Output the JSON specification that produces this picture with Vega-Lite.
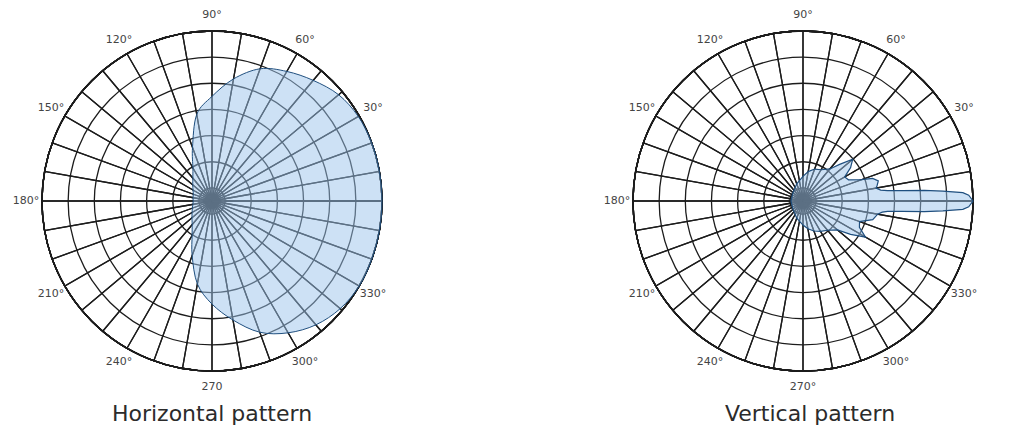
{
  "$schema": "https://vega.github.io/schema/vega-lite/v6.json",
  "padding": {"left": 11, "top": 0, "right": 0, "bottom": 0},
  "spacing": 189,
  "background": "white",
  "config": {
    "view": {"stroke": null},
    "title": {"font": "DejaVu Sans", "fontSize": 22, "fontWeight": "normal", "color": "#2b2b2b", "orient": "bottom", "offset": 2}
  },
  "datasets": {
    "wedges": [
      {"a0": 0, "a1": 10}, {"a0": 10, "a1": 20}, {"a0": 20, "a1": 30}, {"a0": 30, "a1": 40},
      {"a0": 40, "a1": 50}, {"a0": 50, "a1": 60}, {"a0": 60, "a1": 70}, {"a0": 70, "a1": 80},
      {"a0": 80, "a1": 90}, {"a0": 90, "a1": 100}, {"a0": 100, "a1": 110}, {"a0": 110, "a1": 120},
      {"a0": 120, "a1": 130}, {"a0": 130, "a1": 140}, {"a0": 140, "a1": 150}, {"a0": 150, "a1": 160},
      {"a0": 160, "a1": 170}, {"a0": 170, "a1": 180}, {"a0": 180, "a1": 190}, {"a0": 190, "a1": 200},
      {"a0": 200, "a1": 210}, {"a0": 210, "a1": 220}, {"a0": 220, "a1": 230}, {"a0": 230, "a1": 240},
      {"a0": 240, "a1": 250}, {"a0": 250, "a1": 260}, {"a0": 260, "a1": 270}, {"a0": 270, "a1": 280},
      {"a0": 280, "a1": 290}, {"a0": 290, "a1": 300}, {"a0": 300, "a1": 310}, {"a0": 310, "a1": 320},
      {"a0": 320, "a1": 330}, {"a0": 330, "a1": 340}, {"a0": 340, "a1": 350}, {"a0": 350, "a1": 360}
    ],
    "rings": [
      {"level": -30}, {"level": -25}, {"level": -20}, {"level": -15},
      {"level": -10}, {"level": -5}, {"level": 0}
    ],
    "labelsH": [
      {"bearing": 30, "text": "30°"}, {"bearing": 60, "text": "60°"}, {"bearing": 90, "text": "90°"},
      {"bearing": 120, "text": "120°"}, {"bearing": 150, "text": "150°"}, {"bearing": 180, "text": "180°"},
      {"bearing": 210, "text": "210°"}, {"bearing": 240, "text": "240°"}, {"bearing": 270, "text": "270"},
      {"bearing": 300, "text": "300°"}, {"bearing": 330, "text": "330°"}
    ],
    "labelsV": [
      {"bearing": 30, "text": "30°"}, {"bearing": 60, "text": "60°"}, {"bearing": 90, "text": "90°"},
      {"bearing": 120, "text": "120°"}, {"bearing": 150, "text": "150°"}, {"bearing": 180, "text": "180°"},
      {"bearing": 210, "text": "210°"}, {"bearing": 240, "text": "240°"}, {"bearing": 270, "text": "270°"},
      {"bearing": 300, "text": "300°"}, {"bearing": 330, "text": "330°"}
    ],
    "horizontal": [
      {"angle": 0, "gain": 0}, {"angle": 10, "gain": 0}, {"angle": 20, "gain": 0},
      {"angle": 30, "gain": -0.2}, {"angle": 40, "gain": -0.9}, {"angle": 50, "gain": -2.4},
      {"angle": 60, "gain": -3.9}, {"angle": 70, "gain": -5.6}, {"angle": 80, "gain": -8.8},
      {"angle": 90, "gain": -12.5}, {"angle": 100, "gain": -15.7}, {"angle": 110, "gain": -21.6},
      {"angle": 120, "gain": -25.2}, {"angle": 130, "gain": -26.8}, {"angle": 140, "gain": -27.7},
      {"angle": 150, "gain": -28.3}, {"angle": 160, "gain": -28.7}, {"angle": 170, "gain": -28.8},
      {"angle": 180, "gain": -28.9}, {"angle": 190, "gain": -28.8}, {"angle": 200, "gain": -28.5},
      {"angle": 210, "gain": -28.1}, {"angle": 220, "gain": -27.5}, {"angle": 230, "gain": -26.6},
      {"angle": 240, "gain": -24.9}, {"angle": 250, "gain": -21.4}, {"angle": 260, "gain": -16.4},
      {"angle": 270, "gain": -12.8}, {"angle": 280, "gain": -9.4}, {"angle": 290, "gain": -5.8},
      {"angle": 300, "gain": -3.4}, {"angle": 310, "gain": -1.6}, {"angle": 320, "gain": -0.5},
      {"angle": 330, "gain": 0}, {"angle": 340, "gain": 0}, {"angle": 350, "gain": 0}
    ],
    "vertical": [
      {"angle": 0, "gain": 0}, {"angle": 2, "gain": -0.8}, {"angle": 3, "gain": -1.9},
      {"angle": 4, "gain": -5.7}, {"angle": 5, "gain": -9.2}, {"angle": 6, "gain": -13.4},
      {"angle": 7, "gain": -16.2}, {"angle": 8, "gain": -17.5}, {"angle": 10, "gain": -18.3},
      {"angle": 12, "gain": -18.0}, {"angle": 15, "gain": -17.6}, {"angle": 18, "gain": -18.5},
      {"angle": 20, "gain": -20.6}, {"angle": 25, "gain": -22.9}, {"angle": 30, "gain": -23.3},
      {"angle": 35, "gain": -21.4}, {"angle": 40, "gain": -20.1}, {"angle": 45, "gain": -22.6},
      {"angle": 50, "gain": -24.5}, {"angle": 60, "gain": -25.6}, {"angle": 70, "gain": -26.0},
      {"angle": 80, "gain": -26.8}, {"angle": 90, "gain": -27.8}, {"angle": 110, "gain": -29.0},
      {"angle": 140, "gain": -30}, {"angle": 180, "gain": -30.2}, {"angle": 220, "gain": -30},
      {"angle": 250, "gain": -29}, {"angle": 270, "gain": -27.9}, {"angle": 280, "gain": -27.1},
      {"angle": 290, "gain": -26.4}, {"angle": 300, "gain": -25.8}, {"angle": 310, "gain": -25.2},
      {"angle": 320, "gain": -23.9}, {"angle": 325, "gain": -21.4}, {"angle": 330, "gain": -18.7},
      {"angle": 335, "gain": -20.6}, {"angle": 340, "gain": -21.0}, {"angle": 345, "gain": -18.7},
      {"angle": 350, "gain": -18.0}, {"angle": 352, "gain": -17.2}, {"angle": 353, "gain": -16.2},
      {"angle": 354, "gain": -13.4}, {"angle": 355, "gain": -9.2}, {"angle": 356, "gain": -5.7},
      {"angle": 357, "gain": -1.9}, {"angle": 358, "gain": -0.8}
    ]
  },
  "hconcat": [
    {
      "width": 402,
      "height": 402,
      "title": {"text": "Horizontal pattern"},
      "layer": [
        {
          "data": {"name": "wedges"},
          "mark": {"type": "arc", "filled": false, "stroke": "#1c1c1c", "strokeWidth": 1.3, "radius": 170},
          "encoding": {
            "theta": {"field": "a0", "type": "quantitative", "scale": {"domain": [0, 360], "range": [1.5707963, -4.7123890]}},
            "theta2": {"field": "a1"}
          }
        },
        {
          "data": {"name": "rings"},
          "mark": {"type": "arc", "filled": false, "stroke": "#1c1c1c", "strokeWidth": 1.3},
          "encoding": {
            "theta": {"datum": 0, "type": "quantitative", "scale": {"domain": [0, 360], "range": [1.5707963, -4.7123890]}},
            "theta2": {"datum": 360},
            "radius": {"field": "level", "type": "quantitative", "stack": null, "scale": {"type": "linear", "zero": false, "domain": [-32.5, 0], "range": [0, 170]}}
          }
        },
        {
          "mark": {"type": "rule", "color": "#111111", "strokeWidth": 2.2},
          "encoding": {
            "x": {"datum": -32.5, "type": "quantitative", "scale": {"domain": [-38.426, 38.426], "nice": false}, "axis": null},
            "x2": {"datum": 32.5},
            "y": {"datum": 0, "type": "quantitative", "scale": {"domain": [-38.426, 38.426], "nice": false}, "axis": null}
          }
        },
        {
          "mark": {"type": "rule", "color": "#111111", "strokeWidth": 2.2},
          "encoding": {
            "y": {"datum": -32.5, "type": "quantitative", "scale": {"domain": [-38.426, 38.426], "nice": false}, "axis": null},
            "y2": {"datum": 32.5},
            "x": {"datum": 0, "type": "quantitative", "scale": {"domain": [-38.426, 38.426], "nice": false}, "axis": null}
          }
        },
        {
          "data": {"name": "horizontal"},
          "transform": [
            {"calculate": "(datum.gain + 32.5) * cos(datum.angle * PI / 180)", "as": "east"},
            {"calculate": "(datum.gain + 32.5) * sin(datum.angle * PI / 180)", "as": "north"}
          ],
          "mark": {"type": "line", "interpolate": "cardinal-closed", "fill": "#9cc4ec", "fillOpacity": 0.5, "stroke": "#1f4f7f", "strokeWidth": 1},
          "encoding": {
            "x": {"field": "east", "type": "quantitative", "scale": {"domain": [-38.426, 38.426], "nice": false}, "axis": null},
            "y": {"field": "north", "type": "quantitative", "scale": {"domain": [-38.426, 38.426], "nice": false}, "axis": null},
            "order": {"field": "angle", "type": "quantitative"}
          }
        },
        {
          "data": {"name": "labelsH"},
          "mark": {"type": "text", "radius": 186, "font": "DejaVu Sans", "fontSize": 11, "color": "#444444"},
          "encoding": {
            "theta": {"field": "bearing", "type": "quantitative", "scale": {"domain": [0, 360], "range": [1.5707963, -4.7123890]}},
            "text": {"field": "text"}
          }
        },
        {
          "mark": {"type": "text", "radius": 175, "align": "left", "baseline": "middle", "dy": -7, "font": "DejaVu Sans", "fontSize": 11, "color": "#444444"},
          "encoding": {
            "theta": {"datum": 0, "type": "quantitative", "scale": {"domain": [0, 360], "range": [1.5707963, -4.7123890]}},
            "text": {"value": "0°"}
          }
        },
        {
          "mark": {"type": "text", "radius": 175, "align": "left", "baseline": "middle", "dy": 6, "font": "DejaVu Sans", "fontSize": 10, "color": "#555555"},
          "encoding": {
            "theta": {"datum": 0, "type": "quantitative", "scale": {"domain": [0, 360], "range": [1.5707963, -4.7123890]}},
            "text": {"value": "0(dB)"}
          }
        }
      ]
    },
    {
      "width": 402,
      "height": 402,
      "title": {"text": "Vertical pattern", "dx": 7},
      "layer": [
        {
          "data": {"name": "wedges"},
          "mark": {"type": "arc", "filled": false, "stroke": "#1c1c1c", "strokeWidth": 1.3, "radius": 170},
          "encoding": {
            "theta": {"field": "a0", "type": "quantitative", "scale": {"domain": [0, 360], "range": [1.5707963, -4.7123890]}},
            "theta2": {"field": "a1"}
          }
        },
        {
          "data": {"name": "rings"},
          "mark": {"type": "arc", "filled": false, "stroke": "#1c1c1c", "strokeWidth": 1.3},
          "encoding": {
            "theta": {"datum": 0, "type": "quantitative", "scale": {"domain": [0, 360], "range": [1.5707963, -4.7123890]}},
            "theta2": {"datum": 360},
            "radius": {"field": "level", "type": "quantitative", "stack": null, "scale": {"type": "linear", "zero": false, "domain": [-32.5, 0], "range": [0, 170]}}
          }
        },
        {
          "mark": {"type": "rule", "color": "#111111", "strokeWidth": 2.2},
          "encoding": {
            "x": {"datum": -32.5, "type": "quantitative", "scale": {"domain": [-38.426, 38.426], "nice": false}, "axis": null},
            "x2": {"datum": 32.5},
            "y": {"datum": 0, "type": "quantitative", "scale": {"domain": [-38.426, 38.426], "nice": false}, "axis": null}
          }
        },
        {
          "mark": {"type": "rule", "color": "#111111", "strokeWidth": 2.2},
          "encoding": {
            "y": {"datum": -32.5, "type": "quantitative", "scale": {"domain": [-38.426, 38.426], "nice": false}, "axis": null},
            "y2": {"datum": 32.5},
            "x": {"datum": 0, "type": "quantitative", "scale": {"domain": [-38.426, 38.426], "nice": false}, "axis": null}
          }
        },
        {
          "data": {"name": "vertical"},
          "transform": [
            {"calculate": "(datum.gain + 32.5) * cos(datum.angle * PI / 180)", "as": "east"},
            {"calculate": "(datum.gain + 32.5) * sin(datum.angle * PI / 180)", "as": "north"}
          ],
          "mark": {"type": "line", "interpolate": "linear-closed", "fill": "#9cc4ec", "fillOpacity": 0.5, "stroke": "#1f4f7f", "strokeWidth": 1.2},
          "encoding": {
            "x": {"field": "east", "type": "quantitative", "scale": {"domain": [-38.426, 38.426], "nice": false}, "axis": null},
            "y": {"field": "north", "type": "quantitative", "scale": {"domain": [-38.426, 38.426], "nice": false}, "axis": null},
            "order": {"field": "angle", "type": "quantitative"}
          }
        },
        {
          "data": {"name": "labelsV"},
          "mark": {"type": "text", "radius": 186, "font": "DejaVu Sans", "fontSize": 11, "color": "#444444"},
          "encoding": {
            "theta": {"field": "bearing", "type": "quantitative", "scale": {"domain": [0, 360], "range": [1.5707963, -4.7123890]}},
            "text": {"field": "text"}
          }
        },
        {
          "mark": {"type": "text", "radius": 175, "align": "left", "baseline": "middle", "dy": -7, "font": "DejaVu Sans", "fontSize": 11, "color": "#444444"},
          "encoding": {
            "theta": {"datum": 0, "type": "quantitative", "scale": {"domain": [0, 360], "range": [1.5707963, -4.7123890]}},
            "text": {"value": "0°"}
          }
        },
        {
          "mark": {"type": "text", "radius": 175, "align": "left", "baseline": "middle", "dy": 6, "font": "DejaVu Sans", "fontSize": 10, "color": "#555555"},
          "encoding": {
            "theta": {"datum": 0, "type": "quantitative", "scale": {"domain": [0, 360], "range": [1.5707963, -4.7123890]}},
            "text": {"value": "0(dB)"}
          }
        }
      ]
    }
  ]
}
